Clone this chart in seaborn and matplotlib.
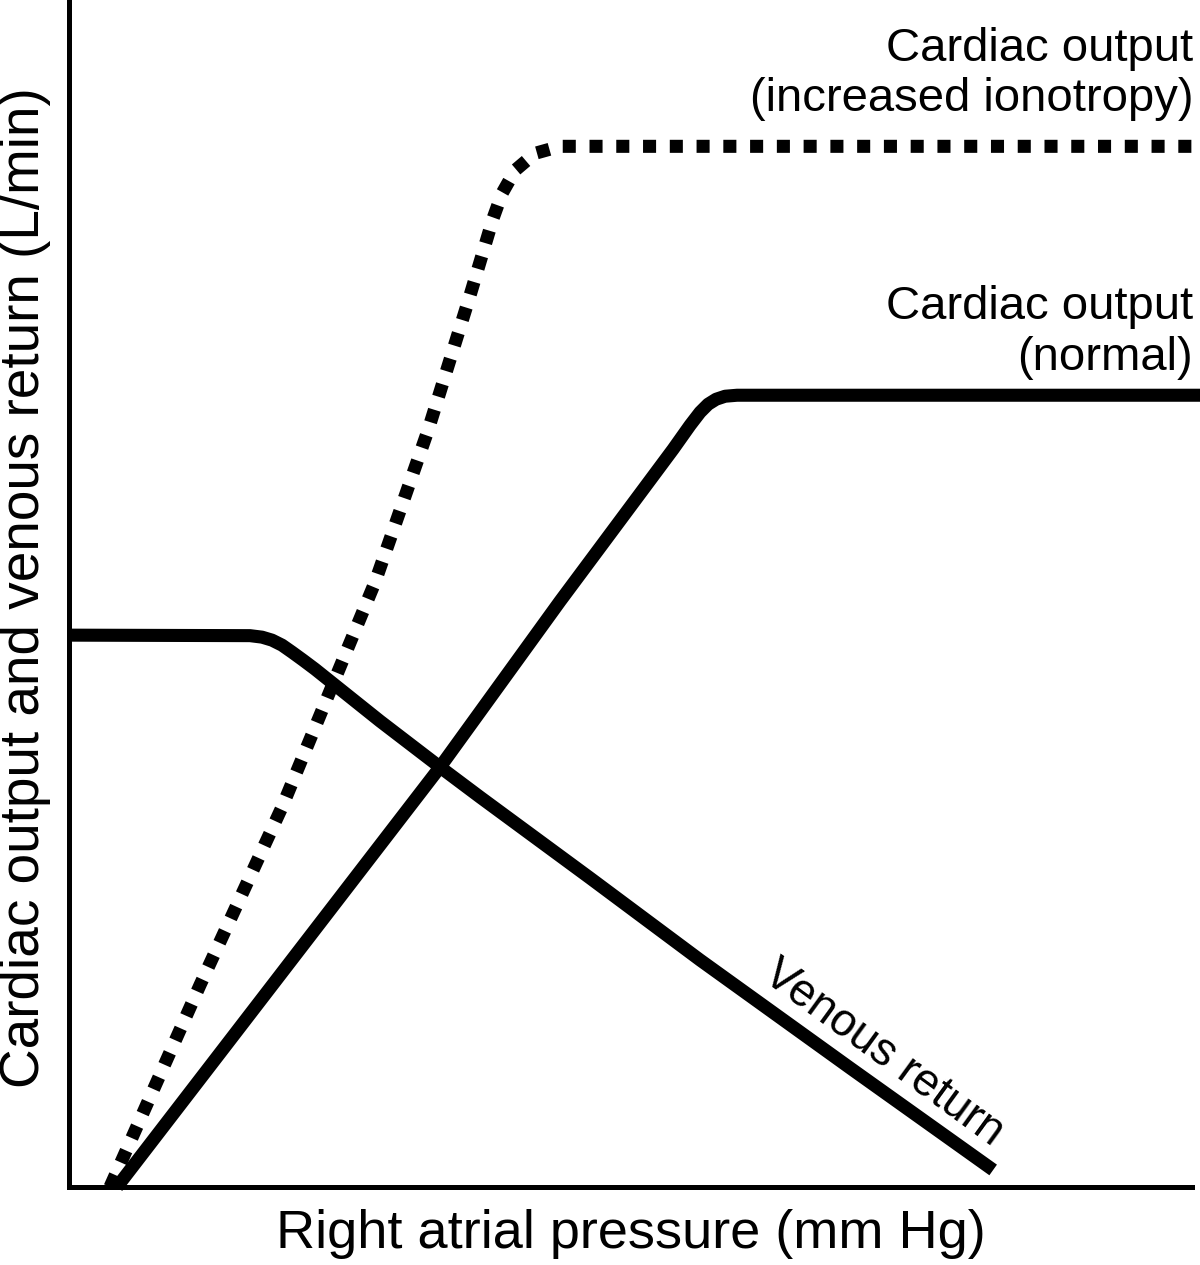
import matplotlib
matplotlib.use('Agg')
import matplotlib.pyplot as plt
import seaborn as sns
import pandas as pd

# schematic units (no real scale on the axes)
vr_x = [0, 18.1, 19.3, 20.3, 21.3, 22.3, 23.4, 24.6, 26.1, 31.1, 37.1, 41.1,
        52.1, 63.1, 78.1, 92.4]
vr_y = [55.2, 55.15, 55.0, 54.7, 54.2, 53.5, 52.7, 51.8, 50.6, 46.6, 42.0, 39.0,
        30.9, 22.7, 11.9, 1.7]

co_x = [4.8, 37.1, 49.1, 60.4, 62.1, 63.1, 63.9, 64.7, 65.6, 66.8, 68.1, 113.1]
co_y = [0, 42.0, 58.6, 73.8, 76.2, 77.5, 78.3, 78.8, 79.1, 79.2, 79.2, 79.2]

ino_x = [4.1, 13.1, 21.3, 30.6, 35.9, 40.1, 42.4, 43.3, 44.6, 46.6, 49.1, 113.1]
ino_y = [0, 20.2, 38.0, 60.5, 75.7, 89.2, 96.9, 99.4, 101.7, 103.4, 104.1, 104.1]


def main():
    sns.set_style("white")
    plt.rcParams['font.family'] = ['Liberation Sans', 'DejaVu Sans']
    plt.rcParams['text.color'] = 'black'
    plt.rcParams['axes.labelcolor'] = 'black'

    fig = plt.figure(figsize=(12, 12.65), dpi=100)
    ax = fig.add_axes([0.0575, 0.0617, 0.936, 0.938])

    vr = pd.DataFrame({'x': vr_x, 'y': vr_y})
    co = pd.DataFrame({'x': co_x, 'y': co_y})
    ino = pd.DataFrame({'x': ino_x, 'y': ino_y})

    lw = 9.4
    sns.lineplot(data=vr, x='x', y='y', estimator=None, sort=False, ax=ax,
                 color='black', lw=lw, solid_capstyle='butt', clip_on=False)
    sns.lineplot(data=co, x='x', y='y', estimator=None, sort=False, ax=ax,
                 color='black', lw=lw, solid_capstyle='butt', clip_on=False)
    sns.lineplot(data=ino, x='x', y='y', estimator=None, sort=False, ax=ax,
                 color='black', lw=lw, linestyle=(0, (1, 1.05)),
                 dash_capstyle='butt', clip_on=False)

    ax.set_xlim(0, 112.3)
    ax.set_ylim(0, 118.7)
    ax.set_xticks([])
    ax.set_yticks([])
    sns.despine(ax=ax)
    for s in ['left', 'bottom']:
        ax.spines[s].set_linewidth(3.6)
        ax.spines[s].set_color('black')

    ax.set_xlabel('Right atrial pressure (mm Hg)', fontsize=39)
    ax.set_ylabel('Cardiac output and venous return (L/min)', fontsize=39.5)
    ax.xaxis.set_label_coords(0.5, -0.019)
    ax.yaxis.set_label_coords(-0.016, 0.505)

    ax.text(112.4, 107.6, 'Cardiac output\n(increased ionotropy)', fontsize=34,
            ha='right', va='baseline', multialignment='right')
    ax.text(112.4, 81.7, 'Cardiac output\n(normal)', fontsize=34,
            ha='right', va='baseline', multialignment='right')
    ax.text(81.4, 13.4, 'Venous return', fontsize=33, rotation=-36,
            ha='center', va='center', rotation_mode='anchor')

    plt.savefig('out.png', dpi=100)
    return 0


if __name__ == '__main__':
    main()
